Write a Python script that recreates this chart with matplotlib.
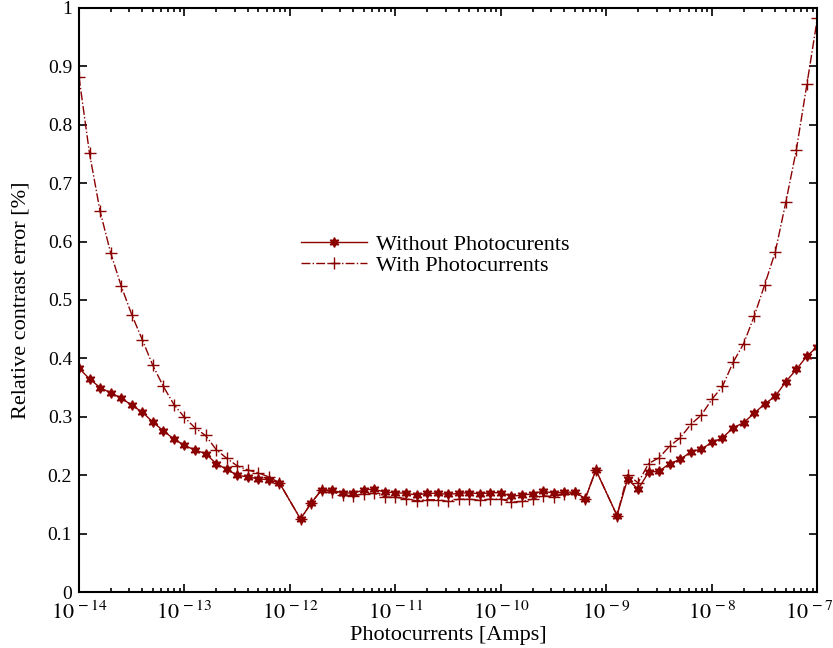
import matplotlib
matplotlib.use('Agg')
import matplotlib.pyplot as plt
import matplotlib.transforms as mtransforms
import numpy as np

plt.rcParams['font.family'] = 'serif'
plt.rcParams['font.serif'] = ['Liberation Serif', 'DejaVu Serif']
plt.rcParams['mathtext.fontset'] = 'stix'

# decade exponents of the sampled photocurrents (0.1 decade steps, 1e-12 and 1e-9 not sampled)
exponents = [-14.0, -13.9, -13.8, -13.7, -13.6, -13.5, -13.4, -13.3, -13.2, -13.1,
             -13.0, -12.9, -12.8, -12.7, -12.6, -12.5, -12.4, -12.3, -12.2, -12.1,
             -11.9, -11.8, -11.7, -11.6, -11.5, -11.4, -11.3, -11.2, -11.1,
             -11.0, -10.9, -10.8, -10.7, -10.6, -10.5, -10.4, -10.3, -10.2, -10.1,
             -10.0, -9.9, -9.8, -9.7, -9.6, -9.5, -9.4, -9.3, -9.2, -9.1,
             -8.9, -8.8, -8.7, -8.6, -8.5, -8.4, -8.3, -8.2, -8.1,
             -8.0, -7.9, -7.8, -7.7, -7.6, -7.5, -7.4, -7.3, -7.2, -7.1, -7.0]

without_pc = [0.383, 0.365, 0.350, 0.341, 0.332, 0.320, 0.308, 0.291, 0.276, 0.262,
              0.251, 0.243, 0.237, 0.220, 0.210, 0.200, 0.197, 0.194, 0.192, 0.187,
              0.125, 0.152, 0.175, 0.174, 0.170, 0.169, 0.175, 0.176, 0.171,
              0.170, 0.169, 0.166, 0.169, 0.169, 0.167, 0.169, 0.170, 0.168, 0.170,
              0.170, 0.164, 0.166, 0.168, 0.173, 0.169, 0.171, 0.171, 0.160, 0.209,
              0.131, 0.193, 0.176, 0.205, 0.207, 0.220, 0.227, 0.240, 0.245,
              0.256, 0.264, 0.281, 0.290, 0.306, 0.322, 0.335, 0.360, 0.381, 0.404, 0.420]

with_pc = [0.882, 0.751, 0.652, 0.581, 0.524, 0.475, 0.432, 0.388, 0.352, 0.321,
           0.299, 0.281, 0.268, 0.244, 0.229, 0.216, 0.209, 0.204, 0.197, 0.187,
           0.125, 0.152, 0.175, 0.172, 0.166, 0.165, 0.168, 0.169, 0.163,
           0.162, 0.160, 0.156, 0.158, 0.158, 0.155, 0.159, 0.159, 0.157, 0.159,
           0.159, 0.154, 0.155, 0.159, 0.165, 0.163, 0.168, 0.170, 0.160, 0.209,
           0.131, 0.201, 0.187, 0.220, 0.230, 0.250, 0.264, 0.287, 0.303,
           0.330, 0.352, 0.393, 0.425, 0.472, 0.526, 0.582, 0.667, 0.757, 0.869, 0.983]

decades = [-14, -13, -12, -11, -10, -9, -8, -7]
y_ticks = [0, 0.1, 0.2, 0.3, 0.4, 0.5, 0.6, 0.7, 0.8, 0.9, 1]
y_tick_labels = ['0', '0.1', '0.2', '0.3', '0.4', '0.5', '0.6', '0.7', '0.8', '0.9', '1']

current = 10.0 ** np.array(exponents)
color = '#8b0000'

fig = plt.figure(figsize=(8.33, 6.48), dpi=100)
ax = fig.add_axes([0.0948, 0.0864, 0.8865, 0.9013])

ax.plot(current, without_pc, color=color, lw=1.0, ls='-', marker=(6, 1, 0),
        ms=7, mfc=color, mec=color, label='Without Photocurents')
ax.plot(current, with_pc, color=color, lw=1.0, ls='-.', marker='+',
        ms=8, mew=1.0, label='With Photocurrents')

ax.set_xscale('log')
ax.set_xlim(1e-14, 1e-7)
ax.set_ylim(0, 1)
ax.set_xticks([10.0 ** d for d in decades])
ax.set_xticklabels([r'$10^{\,%d}$' % d for d in decades], fontsize=16)
ax.set_yticks(y_ticks)
ax.set_yticklabels(y_tick_labels, fontsize=14)

ax.tick_params(which='both', direction='in', top=True, right=True, width=1.2)
ax.tick_params(which='major', length=6, pad=5)
ax.tick_params(axis='x', which='major', pad=7)
ax.tick_params(which='minor', length=3)
for s in ax.spines.values():
    s.set_linewidth(1.5)

# keep the last decade label inside the figure
last = ax.get_xticklabels()[-1]
last.set_transform(last.get_transform() +
                   mtransforms.ScaledTranslation(-8 / 100, 0, fig.dpi_scale_trans))

ax.set_xlabel('Photocurrents [Amps]', fontsize=16, labelpad=1)
ax.set_ylabel('Relative contrast error [%]', fontsize=16, labelpad=12)

ax.legend(loc='upper left', bbox_to_anchor=(0.285, 0.632), frameon=False, fontsize=16,
          handlelength=3.0, handletextpad=0.4, labelspacing=0.05, borderpad=0)

fig.savefig('out.png', dpi=100)
